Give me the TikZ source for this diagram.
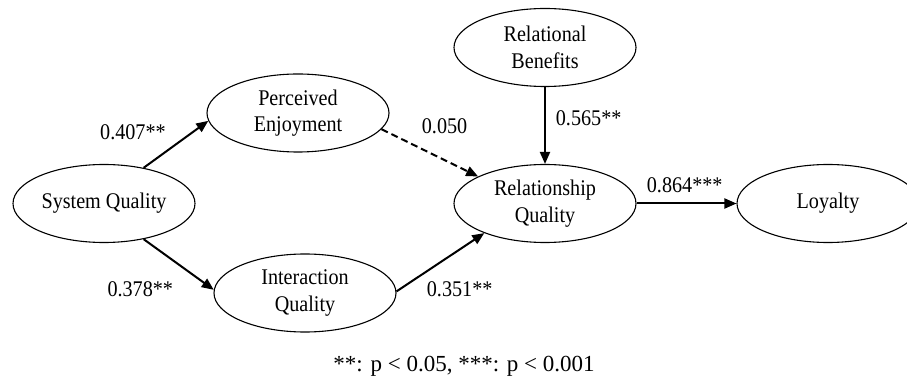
\documentclass[tikz,border=0pt]{standalone}
\usepackage{fontspec}
\setmainfont{Liberation Serif}
\newfontfamily\narrowserif{Liberation Serif}[FakeStretch=0.9]
\usetikzlibrary{shapes.geometric,arrows.meta}
\begin{document}
\begin{tikzpicture}[x=1pt,y=-1pt,
  latent/.style={ellipse,draw,line width=1.1pt,minimum width=182pt,minimum height=78pt,inner sep=0pt,align=center,font=\narrowserif\fontsize{22.4}{26.7}\selectfont},
  pathline/.style={line width=2pt,-{Triangle[length=12pt,width=10pt]}},
  coef/.style={inner sep=0pt,anchor=base west,font=\narrowserif\fontsize{22.4}{24}\selectfont}]
\fill[white] (0,0) rectangle (907,379);
\useasboundingbox (0,0) rectangle (907,379);
\node[latent] (sq) at (104,203.5) {System Quality};
\node[latent] (pe) at (298,113) {Perceived\\Enjoyment};
\node[latent] (iq) at (305,293) {Interaction\\Quality};
\node[latent] (rb) at (545,47.5) {Relational\\Benefits};
\node[latent] (rq) at (545,203.5) {Relationship\\Quality};
\node[latent] (lo) at (828,203.5) {Loyalty};
\draw[pathline] (sq.42.5) -- (pe.185);
\draw[pathline] (sq.-42.5) -- (iq.178);
\draw[pathline,dash pattern=on 7pt off 4pt] (pe.-11) -- (rq.158);
\draw[pathline] (iq.1) -- (rq.206);
\draw[pathline] (rb.south) -- (rq.north);
\draw[pathline] (rq.east) -- (lo.west);
\node[coef] (c1) at (100,139.3) {0.407**};
\node[coef] (c2) at (107.3,296) {0.378**};
\node[coef] (c3) at (421.7,133.3) {0.050};
\node[coef] (c4) at (555.7,126) {0.565**};
\node[coef] (c5) at (646.7,192.7) {0.864***};
\node[coef] (c6) at (426.7,296) {0.351**};
\node[anchor=base,inner sep=0pt,font=\fontsize{23}{26}\selectfont] (note) at (464,371.7) {**: p < 0.05, ***: p < 0.001};
\end{tikzpicture}
\end{document}
